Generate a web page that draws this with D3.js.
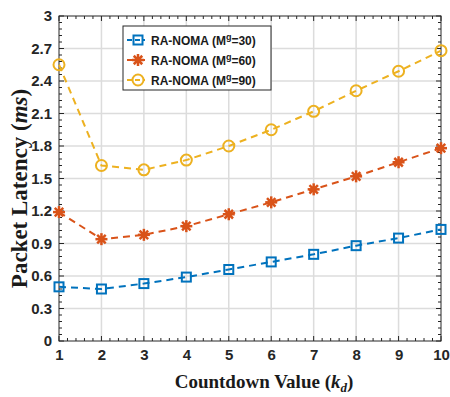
<!DOCTYPE html>
<html>
<head>
<meta charset="utf-8">
<script src="https://cdn.jsdelivr.net/npm/d3@7"></script>
<style>
  body { margin: 0; background: #fff; }
  .tick text { font-family: "Liberation Sans", Arial, sans-serif; font-weight: bold; font-size: 15px; fill: #262626; }
</style>
</head>
<body>
<div id="chart"></div>
<script>
// Data
var countdown = [1, 2, 3, 4, 5, 6, 7, 8, 9, 10];
var latency30 = [0.50, 0.48, 0.53, 0.59, 0.66, 0.73, 0.80, 0.88, 0.95, 1.03];
var latency60 = [1.19, 0.94, 0.98, 1.06, 1.17, 1.28, 1.40, 1.52, 1.65, 1.78];
var latency90 = [2.55, 1.62, 1.58, 1.67, 1.80, 1.95, 2.12, 2.31, 2.49, 2.68];
var yTicks = [0, 0.3, 0.6, 0.9, 1.2, 1.5, 1.8, 2.1, 2.4, 2.7, 3];
var seriesNames = ["30", "60", "90"];

var w = 450, h = 397;
var margin = {top: 16, right: 9, bottom: 56, left: 59};
var innerW = w - margin.left - margin.right;
var innerH = h - margin.top - margin.bottom;

var colors = ["#0072BD", "#D95319", "#EDB120"];
var markers = ["square", "star", "circle"];

var svg = d3.select("#chart").append("svg")
    .attr("width", w)
    .attr("height", h);

var g = svg.append("g")
    .attr("transform", "translate(" + margin.left + "," + margin.top + ")");

var x = d3.scaleLinear().domain([1, 10]).range([0, innerW]);
var y = d3.scaleLinear().domain([0, 3]).range([innerH, 0]);

// Grid lines
g.selectAll(".xgrid").data(countdown.slice(1, -1)).enter().append("line")
    .attr("x1", d => x(d)).attr("x2", d => x(d))
    .attr("y1", 0).attr("y2", innerH)
    .style("stroke", "#dcdcdc").style("stroke-width", 1.5);
g.selectAll(".ygrid").data(yTicks.slice(1, -1)).enter().append("line")
    .attr("x1", 0).attr("x2", innerW)
    .attr("y1", d => y(d)).attr("y2", d => y(d))
    .style("stroke", "#dcdcdc").style("stroke-width", 1.5);

// Minor ticks (inward, on all four sides)
var xMinor = d3.range(1, 10.001, 0.2);
var yMinor = d3.range(0, 3.001, 0.06);
var tickG = g.append("g").style("stroke", "#262626").style("stroke-width", 1);
xMinor.forEach(function(v) {
    var len = Math.abs(v - Math.round(v)) < 1e-6 ? 5 : 3;
    tickG.append("line").attr("x1", x(v)).attr("x2", x(v)).attr("y1", innerH).attr("y2", innerH - len);
    tickG.append("line").attr("x1", x(v)).attr("x2", x(v)).attr("y1", 0).attr("y2", len);
});
yMinor.forEach(function(v) {
    var major = Math.abs(v / 0.3 - Math.round(v / 0.3)) < 1e-6;
    var len = major ? 5 : 3;
    tickG.append("line").attr("y1", y(v)).attr("y2", y(v)).attr("x1", 0).attr("x2", len);
    tickG.append("line").attr("y1", y(v)).attr("y2", y(v)).attr("x1", innerW).attr("x2", innerW - len);
});

// Axes
var xAxis = d3.axisBottom(x).tickValues(countdown).tickSize(0).tickPadding(8).tickFormat(d3.format("d"));
var yAxis = d3.axisLeft(y).tickValues(yTicks).tickSize(0).tickPadding(7).tickFormat(d => d === 0 || d === 3 ? d3.format("d")(d) : d3.format(".1f")(d));

g.append("g").attr("transform", "translate(0," + innerH + ")").call(xAxis)
    .call(s => s.select(".domain").remove());
g.append("g").call(yAxis)
    .call(s => s.select(".domain").remove());

// Frame
g.append("rect")
    .attr("width", innerW).attr("height", innerH)
    .style("fill", "none").style("stroke", "#262626").style("stroke-width", 1);

// Lines
var line = d3.line()
    .x((d, i) => x(countdown[i]))
    .y(d => y(d));

function drawMarker(sel, type, color, cx, cy) {
    if (type === "square") {
        sel.append("rect").attr("x", cx - 4.5).attr("y", cy - 4.5).attr("width", 9).attr("height", 9)
            .style("fill", "none").style("stroke", color).style("stroke-width", 2);
    } else if (type === "circle") {
        sel.append("circle").attr("cx", cx).attr("cy", cy).attr("r", 5.5)
            .style("fill", "none").style("stroke", color).style("stroke-width", 2);
    } else {
        for (var k = 0; k < 4; k++) {
            var a = k * Math.PI / 4;
            sel.append("line")
                .attr("x1", cx - 6 * Math.cos(a)).attr("y1", cy - 6 * Math.sin(a))
                .attr("x2", cx + 6 * Math.cos(a)).attr("y2", cy + 6 * Math.sin(a))
                .style("stroke", color).style("stroke-width", 2.5);
        }
        sel.append("circle").attr("cx", cx).attr("cy", cy).attr("r", 3).style("fill", color);
    }
}

var allSeries = [latency30, latency60, latency90];
allSeries.forEach(function(series, si) {
    g.append("path")
        .datum(series)
        .attr("d", line)
        .style("fill", "none")
        .style("stroke", colors[si])
        .style("stroke-width", 2)
        .style("stroke-dasharray", "7,5");
    series.forEach(function(v, i) {
        drawMarker(g, markers[si], colors[si], x(countdown[i]), y(v));
    });
});

// Legend
var legend = svg.append("g").attr("transform", "translate(123,26)");
legend.append("rect")
    .attr("width", 148).attr("height", 64)
    .style("fill", "#fff").style("stroke", "#262626").style("stroke-width", 1);
seriesNames.forEach(function(name, i) {
    var ly = 14 + i * 20;
    legend.append("line")
        .attr("x1", 4).attr("x2", 22).attr("y1", ly).attr("y2", ly)
        .style("stroke", colors[i]).style("stroke-width", 2).style("stroke-dasharray", "5,3");
    drawMarker(legend, markers[i], colors[i], 15, ly);
    var t = legend.append("text")
        .attr("x", 28).attr("y", ly + 4.5)
        .style("font-family", "Liberation Sans, Arial, sans-serif")
        .style("font-weight", "bold").style("font-size", "12px").style("fill", "#1a1a1a");
    t.append("tspan").text("RA-NOMA (M");
    t.append("tspan").attr("dy", -5).style("font-size", "9px").text("g");
    t.append("tspan").attr("dy", 5).text("=" + name + ")");
});

// Axis titles
var xt = svg.append("text")
    .attr("x", 264).attr("y", 388)
    .attr("text-anchor", "middle")
    .style("font-family", "Liberation Serif, Times New Roman, serif")
    .style("font-weight", "bold").style("font-size", "19px").style("fill", "#1a1a1a");
xt.append("tspan").text("Countdown Value (");
xt.append("tspan").style("font-style", "italic").text("k");
xt.append("tspan").style("font-style", "italic").style("font-size", "13px").attr("dy", 4).text("d");
xt.append("tspan").attr("dy", -4).text(")");

var yt = svg.append("text")
    .attr("transform", "translate(27," + (margin.top + innerH / 2 + 10) + ") rotate(-90)")
    .attr("text-anchor", "middle")
    .style("font-family", "Liberation Serif, Times New Roman, serif")
    .style("font-weight", "bold").style("font-size", "23px").style("fill", "#1a1a1a");
yt.append("tspan").text("Packet Latency (");
yt.append("tspan").style("font-style", "italic").text("ms");
yt.append("tspan").text(")");
</script>
</body>
</html>
